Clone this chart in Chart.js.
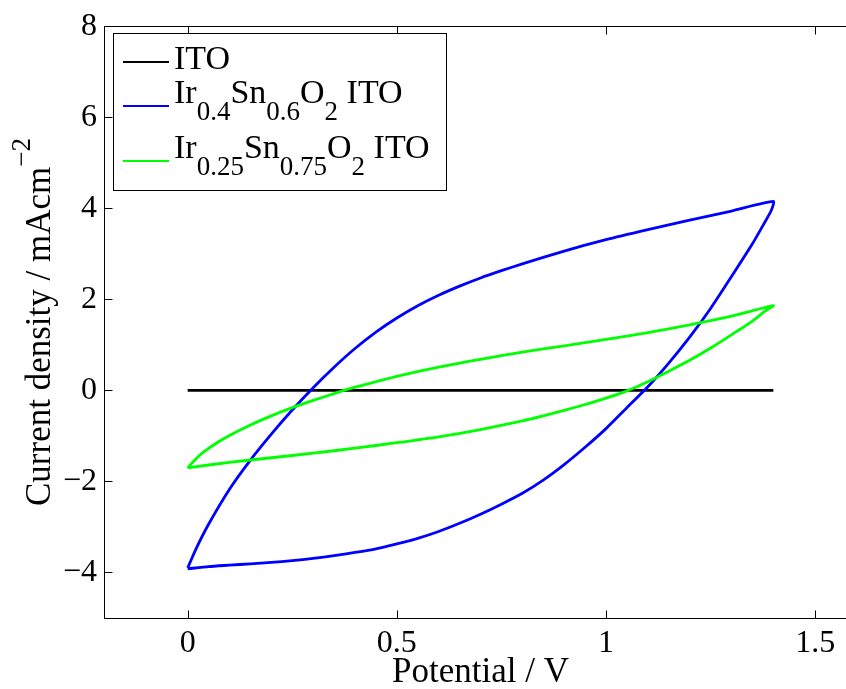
<!DOCTYPE html>
<html lang="en">
<head>
<meta charset="UTF-8">
<title>Cyclic voltammograms</title>
<script src="https://cdn.jsdelivr.net/npm/chart.js"></script>
<style>
  html, body { margin: 0; padding: 0; background: #fff; overflow: hidden; }
  #wrap { width: 870px; height: 689px; }
</style>
</head>
<body>
<div id="wrap"><canvas id="cvChart" width="870" height="689"></canvas></div>
<script>
// axis ticks
const xTicks = [0, 0.5, 1, 1.5];
const yTicks = [-4, -2, 0, 2, 4, 6, 8];

// ITO blank: flat line
const itoX = [0, 1.4];
const itoY = [0, 0];

// Ir0.4Sn0.6O2: anodic sweep then cathodic sweep
const irHiX = [0, 0.02, 0.05, 0.1, 0.15, 0.2, 0.25, 0.3, 0.35, 0.4, 0.45, 0.5, 0.55, 0.6, 0.65, 0.7, 0.75, 0.8, 0.9, 1.0, 1.1, 1.2, 1.3, 1.4,
               1.395, 1.38, 1.35, 1.3, 1.25, 1.2, 1.15, 1.1, 1.05, 1.0, 0.95, 0.9, 0.85, 0.8, 0.75, 0.7, 0.65, 0.6, 0.55, 0.5, 0.45, 0.4, 0.35, 0.3, 0.25, 0.2, 0.15, 0.1, 0.05, 0];
const irHiY = [-3.9, -3.48, -2.94, -2.17, -1.53, -0.96, -0.43, 0.06, 0.51, 0.92, 1.28, 1.59, 1.86, 2.09, 2.29, 2.47, 2.63, 2.78, 3.06, 3.31, 3.53, 3.74, 3.94, 4.15,
               3.95, 3.7, 3.22, 2.5, 1.8, 1.17, 0.6, 0.08, -0.38, -0.84, -1.25, -1.63, -1.97, -2.26, -2.5, -2.72, -2.92, -3.1, -3.25, -3.37, -3.48, -3.56, -3.63, -3.69, -3.74, -3.78, -3.81, -3.84, -3.87, -3.92];

// Ir0.25Sn0.75O2
const irLoX = [0, 0.02, 0.04, 0.07, 0.1, 0.15, 0.2, 0.25, 0.3, 0.35, 0.4, 0.45, 0.5, 0.6, 0.7, 0.8, 0.9, 1.0, 1.1, 1.2, 1.3, 1.4,
               1.38, 1.35, 1.3, 1.25, 1.2, 1.15, 1.1, 1.05, 1.0, 0.95, 0.9, 0.85, 0.8, 0.7, 0.6, 0.5, 0.4, 0.3, 0.2, 0.1, 0];
const irLoY = [-1.7, -1.5, -1.34, -1.15, -0.99, -0.76, -0.56, -0.38, -0.22, -0.07, 0.07, 0.19, 0.31, 0.51, 0.68, 0.84, 0.98, 1.12, 1.27, 1.44, 1.63, 1.86,
               1.74, 1.52, 1.22, 0.93, 0.66, 0.42, 0.19, -0.01, -0.17, -0.31, -0.44, -0.56, -0.67, -0.86, -1.02, -1.15, -1.27, -1.38, -1.48, -1.58, -1.7];

const seriesNames = ['ITO', 'Ir0.4Sn0.6O2 ITO', 'Ir0.25Sn0.75O2 ITO'];
const seriesColors = ['#000000', '#0000ff', '#00ff00'];
// legend text pieces: [text, isSubscript]
const legendParts = [
  [['ITO', 0]],
  [['Ir', 0], ['0.4', 1], ['Sn', 0], ['0.6', 1], ['O', 0], ['2', 1], [' ITO', 0]],
  [['Ir', 0], ['0.25', 1], ['Sn', 0], ['0.75', 1], ['O', 0], ['2', 1], [' ITO', 0]]
];

const serif = '"Liberation Serif", "Times New Roman", serif';
const toPts = (xs, ys) => xs.map((x, i) => ({ x: x, y: ys[i] }));
const minus = v => (v < 0 ? '\u2212' + Math.abs(v) : String(v));

// box + inward ticks like matlab
const framePlugin = {
  id: 'frame',
  afterDatasetsDraw(chart) {
    const { ctx, chartArea: a, scales: { x, y } } = chart;
    const L = Math.round(a.left) + 0.5, R = Math.round(a.right) + 0.5;
    const T = Math.round(a.top) + 0.5, B = Math.round(a.bottom) + 0.5;
    ctx.save();
    ctx.strokeStyle = '#000';
    ctx.lineWidth = 1;
    ctx.strokeRect(L, T, R - L, B - T);
    ctx.beginPath();
    xTicks.forEach(v => {
      const px = Math.round(x.getPixelForValue(v)) + 0.5;
      ctx.moveTo(px, B); ctx.lineTo(px, B - 8);
      ctx.moveTo(px, T); ctx.lineTo(px, T + 8);
    });
    yTicks.forEach(v => {
      const py = Math.round(y.getPixelForValue(v)) + 0.5;
      ctx.moveTo(L, py); ctx.lineTo(L + 8, py);
      ctx.moveTo(R, py); ctx.lineTo(R - 8, py);
    });
    ctx.stroke();
    ctx.restore();
  }
};

// legend with subscripts
const legendPlugin = {
  id: 'subLegend',
  afterDraw(chart) {
    const ctx = chart.ctx;
    const box = { l: 113.5, t: 33.5, r: 446.5, b: 190.5 };
    const baselines = [69, 103, 158];
    const lineYs = [62, 106, 161];
    ctx.save();
    ctx.fillStyle = '#fff';
    ctx.fillRect(box.l, box.t, box.r - box.l, box.b - box.t);
    ctx.strokeStyle = '#000';
    ctx.lineWidth = 1;
    ctx.strokeRect(box.l, box.t, box.r - box.l, box.b - box.t);
    legendParts.forEach((parts, i) => {
      ctx.strokeStyle = seriesColors[i];
      ctx.lineWidth = 2;
      ctx.beginPath();
      ctx.moveTo(123, lineYs[i]);
      ctx.lineTo(169, lineYs[i]);
      ctx.stroke();
      let cx = 174;
      ctx.fillStyle = '#000';
      ctx.textBaseline = 'alphabetic';
      ctx.textAlign = 'left';
      parts.forEach(([txt, sub]) => {
        ctx.font = (sub ? '27px ' : '34px ') + serif;
        ctx.fillText(txt, cx, baselines[i] + (sub ? 17 : 0));
        cx += ctx.measureText(txt).width;
      });
    });
    ctx.restore();
  }
};

// rotated y title with superscript
const yTitlePlugin = {
  id: 'yTitle',
  afterDraw(chart) {
    const ctx = chart.ctx;
    const main = 'Current density / mAcm';
    const sup = '\u22122';
    ctx.save();
    ctx.font = '35px ' + serif;
    const w1 = ctx.measureText(main).width;
    ctx.font = '27px ' + serif;
    const w2 = ctx.measureText(sup).width;
    const total = w1 + w2;
    ctx.translate(50, 322);
    ctx.rotate(-Math.PI / 2);
    ctx.fillStyle = '#000';
    ctx.textBaseline = 'alphabetic';
    ctx.textAlign = 'left';
    ctx.font = '35px ' + serif;
    ctx.fillText(main, -total / 2, 0);
    ctx.font = '27px ' + serif;
    ctx.fillText(sup, -total / 2 + w1, -20);
    ctx.restore();
  }
};

const lineDs = (label, pts, color, order) => ({
  label: label,
  data: pts,
  showLine: true,
  borderColor: color,
  backgroundColor: color,
  borderWidth: 2.8,
  pointRadius: 0,
  pointHoverRadius: 0,
  tension: 0.2,
  fill: false,
  order: order
});

new Chart(document.getElementById('cvChart'), {
  type: 'scatter',
  data: {
    datasets: [
      lineDs(seriesNames[0], toPts(itoX, itoY), seriesColors[0], 2),
      lineDs(seriesNames[1], toPts(irHiX, irHiY), seriesColors[1], 1),
      lineDs(seriesNames[2], toPts(irLoX, irLoY), seriesColors[2], 0)
    ]
  },
  options: {
    responsive: false,
    animation: false,
    events: [],
    layout: { padding: { top: 25, right: 13, left: 0, bottom: 0 } },
    plugins: { legend: { display: false }, title: { display: false }, tooltip: { enabled: false } },
    scales: {
      x: {
        type: 'linear',
        min: -0.2,
        max: 1.6,
        afterBuildTicks: s => { s.ticks = xTicks.map(v => ({ value: v })); },
        afterFit: s => { s.height = 71; },
        grid: { display: false, drawTicks: false },
        border: { display: false },
        ticks: { padding: 6, color: '#000', font: { family: serif, size: 32 }, callback: v => minus(v), maxRotation: 0 },
        title: { display: true, text: 'Potential / V', color: '#000', font: { family: serif, size: 35 }, padding: { top: 0, bottom: -5 } }
      },
      y: {
        type: 'linear',
        min: -5,
        max: 8,
        afterBuildTicks: s => { s.ticks = yTicks.map(v => ({ value: v })); },
        afterFit: s => { s.width = 104; },
        grid: { display: false, drawTicks: false },
        border: { display: false },
        ticks: { padding: 7, color: '#000', font: { family: serif, size: 32 }, callback: v => minus(v) }
      }
    }
  },
  plugins: [framePlugin, legendPlugin, yTitlePlugin]
});
</script>
</body>
</html>
